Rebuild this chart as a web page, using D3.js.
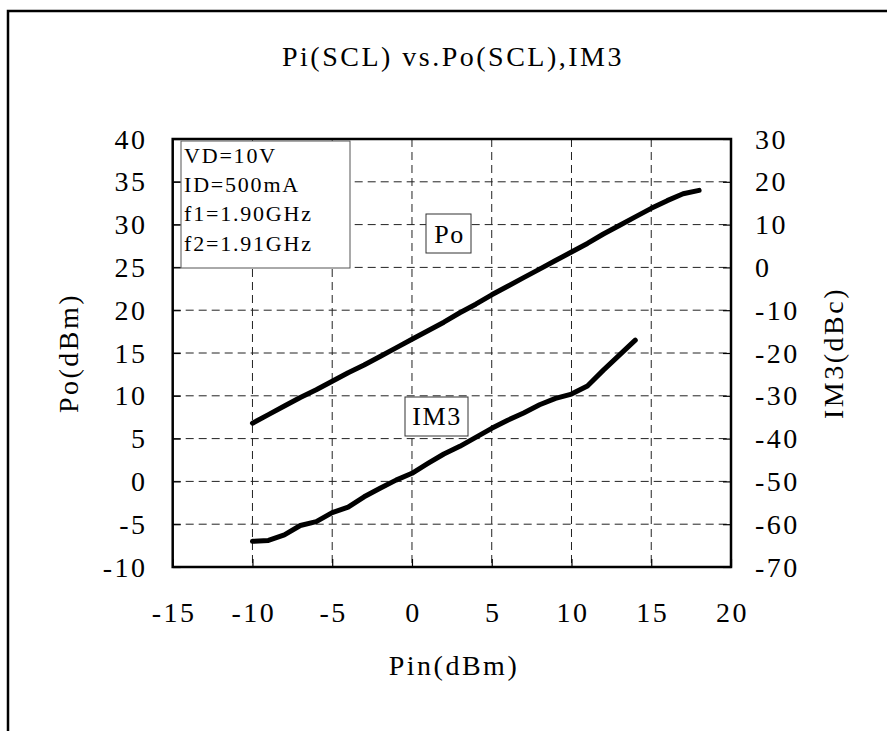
<!DOCTYPE html>
<html>
<head>
<meta charset="utf-8">
<script src="https://cdn.jsdelivr.net/npm/d3@7/dist/d3.min.js"></script>
<style>
  html, body { margin: 0; padding: 0; background: #fff; }
  svg { display: block; }
  text { font-family: "Liberation Serif", "Times New Roman", serif; fill: #000; }
</style>
</head>
<body>
<svg id="chart" width="887" height="731"></svg>
<script>
// ---- data ----
const poPin = [-10,-9,-8,-7,-6,-5,-4,-3,-2,-1,0,1,2,3,4,5,6,7,8,9,10,11,12,13,14,15,16,17,18];
const poValues = [6.8,7.8,8.8,9.8,10.7,11.7,12.7,13.6,14.6,15.6,16.6,17.6,18.6,19.7,20.7,21.8,22.8,23.8,24.8,25.8,26.8,27.8,28.9,29.9,30.9,31.9,32.8,33.6,34.0];
const im3Pin = [-10,-9,-8,-7,-6,-5,-4,-3,-2,-1,0,1,2,3,4,5,6,7,8,9,10,11,12,13,14];
const im3Values = [-64.0,-63.8,-62.5,-60.3,-59.4,-57.3,-56.0,-53.6,-51.6,-49.7,-48.1,-45.8,-43.6,-41.8,-39.7,-37.6,-35.7,-34.0,-32.1,-30.6,-29.6,-27.7,-24.0,-20.5,-17.0];
const xTicks = [-15,-10,-5,0,5,10,15,20];
const yLeftTicks = [-10,-5,0,5,10,15,20,25,30,35,40];
const yRightTicks = [-70,-60,-50,-40,-30,-20,-10,0,10,20,30];
const infoLines = ["VD=10V","ID=500mA","f1=1.90GHz","f2=1.91GHz"];
const title = "Pi(SCL) vs.Po(SCL),IM3";
const xTitle = "Pin(dBm)";
const yLeftTitle = "Po(dBm)";
const yRightTitle = "IM3(dBc)";

// ---- layout ----
const L = 172.7, R = 731, T = 139, B = 567;
const svg = d3.select("#chart");

const x = d3.scaleLinear().domain([-15, 20]).range([L, R]);
const yL = d3.scaleLinear().domain([-10, 40]).range([B, T]);
const yR = d3.scaleLinear().domain([-70, 30]).range([B, T]);

// outer border (extends past right/bottom edges)
svg.append("rect").attr("x", 8).attr("y", 11).attr("width", 1000).attr("height", 1000)
  .attr("fill", "none").attr("stroke", "#000").attr("stroke-width", 2.5);

// title
svg.append("text").attr("x", 453).attr("y", 66).attr("text-anchor", "middle")
  .style("font-size", "28px").style("letter-spacing", "2.5px").text(title);

// grid
const grid = svg.append("g").attr("stroke", "#222").attr("stroke-width", 1).attr("stroke-dasharray", "8,5");
grid.selectAll("line.v").data(xTicks.slice(1, -1)).join("line")
  .attr("x1", d => x(d)).attr("x2", d => x(d)).attr("y1", T).attr("y2", B);
grid.selectAll("line.h").data(yLeftTicks.slice(1, -1)).join("line")
  .attr("x1", L).attr("x2", R).attr("y1", d => yL(d)).attr("y2", d => yL(d));

// axes with inward ticks
const axB = svg.append("g").attr("transform", `translate(0,${B})`)
  .call(d3.axisTop(x).tickValues(xTicks).tickSize(8).tickFormat(""));
const axL = svg.append("g").attr("transform", `translate(${L},0)`)
  .call(d3.axisRight(yL).tickValues(yLeftTicks).tickSize(8).tickFormat(""));
const axR = svg.append("g").attr("transform", `translate(${R},0)`)
  .call(d3.axisLeft(yR).tickValues(yRightTicks).tickSize(8).tickFormat(""));
[axB, axL, axR].forEach(a => {
  a.select(".domain").remove();
  a.selectAll(".tick line").attr("stroke", "#000").attr("stroke-width", 1.2);
});

// plot frame
svg.append("rect").attr("x", L).attr("y", T).attr("width", R - L).attr("height", B - T)
  .attr("fill", "none").attr("stroke", "#000").attr("stroke-width", 2.5);

// tick labels
const lbl = svg.append("g").style("font-size", "28px").style("letter-spacing", "2.5px");
lbl.selectAll("text.xl").data(xTicks).join("text")
  .attr("x", d => x(d) + 1.5).attr("y", 621.5).attr("text-anchor", "middle").text(d => d);
lbl.selectAll("text.yl").data(yLeftTicks).join("text")
  .attr("x", 147.5).attr("y", d => yL(d) + 9.5).attr("text-anchor", "end").text(d => d);
lbl.selectAll("text.yr").data(yRightTicks).join("text")
  .attr("x", 755).attr("y", d => yR(d) + 9.5).attr("text-anchor", "start").text(d => d);

// axis titles
svg.append("text").attr("x", 454).attr("y", 675).attr("text-anchor", "middle")
  .style("font-size", "28px").style("letter-spacing", "2.5px").text(xTitle);
svg.append("text").attr("transform", `translate(78,${(T + B) / 2}) rotate(-90)`).attr("text-anchor", "middle")
  .style("font-size", "28px").style("letter-spacing", "2.5px").text(yLeftTitle);
svg.append("text").attr("transform", `translate(843,${(T + B) / 2}) rotate(-90)`).attr("text-anchor", "middle")
  .style("font-size", "28px").style("letter-spacing", "2.5px").text(yRightTitle);

// data lines
const linePo = d3.line().x((d, i) => x(poPin[i])).y(d => yL(d));
const lineIm3 = d3.line().x((d, i) => x(im3Pin[i])).y(d => yR(d));
svg.append("path").attr("d", linePo(poValues)).attr("fill", "none").attr("stroke", "#000")
  .attr("stroke-width", 5).attr("stroke-linecap", "round").attr("stroke-linejoin", "round");
svg.append("path").attr("d", lineIm3(im3Values)).attr("fill", "none").attr("stroke", "#000")
  .attr("stroke-width", 5).attr("stroke-linecap", "round").attr("stroke-linejoin", "round");

// info box
svg.append("rect").attr("x", 181).attr("y", 141).attr("width", 169).attr("height", 127)
  .attr("fill", "#fff").attr("stroke", "#555").attr("stroke-width", 1);
svg.append("g").style("font-size", "22px").style("letter-spacing", "1.8px")
  .selectAll("text").data(infoLines).join("text")
  .attr("x", 184).attr("y", (d, i) => 163 + i * 29.2).text(d => d);

// series labels
svg.append("rect").attr("x", 426).attr("y", 214).attr("width", 45).attr("height", 39)
  .attr("fill", "#fff").attr("stroke", "#333").attr("stroke-width", 1);
svg.append("text").attr("x", 449.5).attr("y", 243).attr("text-anchor", "middle")
  .style("font-size", "26px").style("letter-spacing", "1.5px").text("Po");
svg.append("rect").attr("x", 405).attr("y", 397).attr("width", 63).attr("height", 39)
  .attr("fill", "#fff").attr("stroke", "#333").attr("stroke-width", 1);
svg.append("text").attr("x", 437).attr("y", 425).attr("text-anchor", "middle")
  .style("font-size", "26px").style("letter-spacing", "1.5px").text("IM3");
</script>
</body>
</html>
